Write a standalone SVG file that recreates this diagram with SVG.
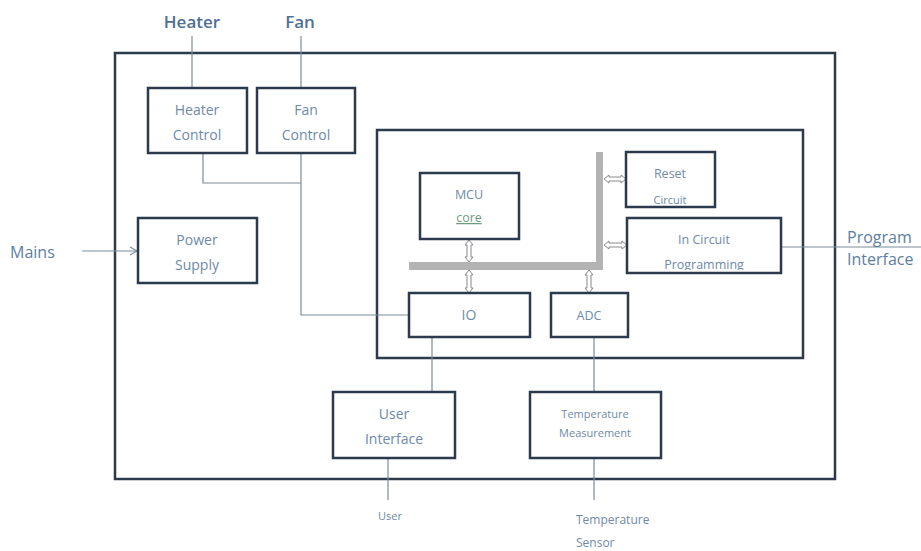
<svg xmlns="http://www.w3.org/2000/svg" width="921" height="551" viewBox="0 0 921 551">
<style>
.box{fill:#fff;stroke:#2b3a4c;stroke-width:2.5}
.frame{fill:none;stroke:#2b3a4c;stroke-width:2.5}
.t{font-family:"Open Sans","Liberation Sans",sans-serif;fill:#6d8aa8;text-anchor:middle;font-size:14px}
.ts{font-family:"Open Sans","Liberation Sans",sans-serif;fill:#6d8aa8;text-anchor:middle;font-size:11px}
.tm{font-family:"Open Sans","Liberation Sans",sans-serif;fill:#6d8aa8;text-anchor:middle;font-size:12.5px}
.lbl{font-family:"Open Sans","Liberation Sans",sans-serif;fill:#5d7ea2;font-size:16px}
.big{font-family:"Open Sans","Liberation Sans",sans-serif;fill:#4f6f93;font-size:17px;font-weight:600;text-anchor:middle}
.ln{fill:none;stroke:#7d8c9c;stroke-width:1.2}
.bus{fill:#b3b3b3}
.dar{fill:#fff;stroke:#8a8a8a;stroke-width:1}
</style>
<defs>
<marker id="open" markerWidth="10" markerHeight="10" refX="8" refY="5" orient="auto" markerUnits="userSpaceOnUse">
<path d="M1,1 L8,5 L1,9" fill="none" stroke="#7d8c9c" stroke-width="1.2"/>
</marker>
<clipPath id="cpReset"><rect x="626" y="152" width="89" height="52"/></clipPath>
<clipPath id="cpIcp"><rect x="627" y="218" width="154" height="52"/></clipPath>
</defs>
<rect width="921" height="551" fill="#fff"/>
<rect class="frame" x="115" y="53" width="720" height="426"/>
<rect class="frame" x="377" y="130" width="426" height="228"/>
<g id="connectors">
<line class="ln" x1="192" y1="36" x2="192" y2="88"/>
<line class="ln" x1="301" y1="36" x2="301" y2="88"/>
<polyline class="ln" points="203,153 203,183 301,183"/>
<polyline class="ln" points="301,153 301,315 409,315"/>
<line class="ln" x1="82" y1="251" x2="137" y2="251" marker-end="url(#open)"/>
<line class="ln" x1="781" y1="247" x2="921" y2="247"/>
<line class="ln" x1="432" y1="337" x2="432" y2="392"/>
<line class="ln" x1="388" y1="458" x2="388" y2="500"/>
<line class="ln" x1="594" y1="337" x2="594" y2="392"/>
<line class="ln" x1="594" y1="458" x2="594" y2="500"/>
<rect class="bus" x="409" y="262" width="194" height="8"/>
<rect class="bus" x="596" y="152" width="7" height="118"/>
<path class="dar" d="M469,240 L473,245 L471,245 L471,257 L473,257 L469,262 L465,257 L467,257 L467,245 L465,245 Z"/>
<path class="dar" d="M469,270 L473,275 L471,275 L471,288 L473,288 L469,293 L465,288 L467,288 L467,275 L465,275 Z"/>
<path class="dar" d="M589,270 L593,275 L591,275 L591,288 L593,288 L589,293 L585,288 L587,288 L587,275 L585,275 Z"/>
<path class="dar" d="M604,179 L609,175 L609,177 L621,177 L621,175 L626,179 L621,183 L621,181 L609,181 L609,183 Z"/>
<path class="dar" d="M604,245 L609,241 L609,243 L622,243 L622,241 L627,245 L622,249 L622,247 L609,247 L609,249 Z"/>
</g>
<g id="heater-control"><rect class="box" x="148" y="88" width="99" height="65"/>
<text class="t" x="197" y="115">Heater</text><text class="t" x="197" y="140">Control</text></g>
<g id="fan-control"><rect class="box" x="257" y="88" width="98" height="65"/>
<text class="t" x="306" y="115">Fan</text><text class="t" x="306" y="140">Control</text></g>
<g id="power-supply"><rect class="box" x="138" y="218" width="119" height="65"/>
<text class="t" x="197" y="245">Power</text><text class="t" x="197" y="270">Supply</text></g>
<g id="mcu-core"><rect class="box" x="420" y="173" width="99" height="66"/>
<text class="tm" x="469" y="199">MCU</text><text class="tm" x="469" y="222" text-decoration="underline" style="fill:#6e9a80">core</text></g>
<g id="reset-circuit"><rect class="box" x="626" y="152" width="89" height="55"/>
<text class="tm" x="670" y="178">Reset</text><text class="ts" x="670" y="204" clip-path="url(#cpReset)">Circuit</text></g>
<g id="in-circuit-programming"><rect class="box" x="627" y="218" width="154" height="55"/>
<text class="tm" x="704" y="244">In Circuit</text><text class="tm" x="704" y="269" clip-path="url(#cpIcp)">Programming</text></g>
<g id="io"><rect class="box" x="409" y="293" width="121" height="44"/>
<text class="t" x="469" y="320">IO</text></g>
<g id="adc"><rect class="box" x="551" y="293" width="77" height="44"/>
<text class="tm" x="589" y="320">ADC</text></g>
<g id="user-interface"><rect class="box" x="333" y="392" width="122" height="66"/>
<text class="t" x="394" y="419">User</text><text class="t" x="394" y="444">Interface</text></g>
<g id="temperature-measurement"><rect class="box" x="530" y="392" width="131" height="66"/>
<text class="ts" x="595" y="418">Temperature</text><text class="ts" x="595" y="437">Measurement</text></g>
<text class="big" x="192" y="28">Heater</text>
<text class="big" x="300" y="28">Fan</text>
<text class="lbl" x="10" y="258">Mains</text>
<text class="lbl" x="847" y="243" font-size="15">Program</text>
<text class="lbl" x="847" y="265" font-size="15">Interface</text>
<text class="ts" x="390" y="520">User</text>
<text class="ts" x="576" y="524" style="text-anchor:start;font-size:12px">Temperature</text>
<text class="ts" x="576" y="547" style="text-anchor:start;font-size:12px">Sensor</text>
</svg>
